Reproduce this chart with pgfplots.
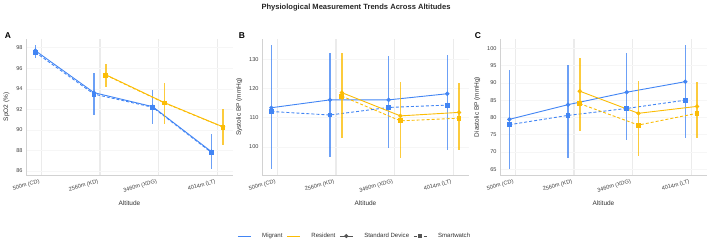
\documentclass[border=0pt]{standalone}
\usepackage{fontspec}
\setmainfont{Liberation Sans}
\usepackage{pgfplots}
\pgfplotsset{compat=1.18}

\definecolor{migrant}{HTML}{4285F4}
\definecolor{resident}{HTML}{FBBC05}
\definecolor{devgray}{HTML}{555555}

\pgfplotsset{
  panel/.style={
    scale only axis, width=207bp, height=136bp,
    xmin=-0.26, xmax=3.27,
    xtick={0,1,2,3},
    xticklabels={500m (CD),2560m (KD),3460m (XDG),4014m (LT)},
    x tick label style={rotate=15, anchor=north east, font=\fontsize{5.6}{6}\selectfont, text=black!75},
    y tick label style={font=\fontsize{5.6}{6}\selectfont, text=black!75},
    /pgf/number format/assume math mode=true,
    major tick length=0pt,
    axis x line*=bottom, axis y line*=left,
    axis line style={-, gray!35, line width=0.6bp},
    xmajorgrids, ymajorgrids,
    x grid style={gray!16, line width=1.3bp},
    y grid style={gray!7, line width=0.5bp},
    xlabel={Altitude},
    label style={font=\fontsize{6.5}{7}\selectfont, text=black!80},
  },
  std/.style={solid, line width=0.9bp, mark=*, mark size=1.7bp},
  watch/.style={line width=0.9bp, dash pattern=on 3bp off 2bp, mark=square*, mark size=1.9bp, mark options={solid}},
  ebar/.style={error bars/y dir=both, error bars/y explicit,
    error bars/error bar style={line width=1.5bp, opacity=0.78, solid},
    error bars/error mark=none},
}

\begin{document}
\begin{tikzpicture}
\path[use as bounding box] (0bp,0bp) rectangle (708bp,241bp);

\node[font=\bfseries\fontsize{7.6}{8}\selectfont, text=black!85] at (356bp,233bp)
  {Physiological Measurement Trends Across Altitudes};

% ---------- A: SpO2 ----------
\begin{axis}[panel, at={(26bp,66bp)}, anchor=south west,
  ymin=85.6, ymax=98.85, ytick={86,88,90,92,94,96,98},
  ylabel={SpO2 (\%)}]
\addplot[migrant, std, ebar, forget plot] coordinates {
  (-0.1,97.71) += (0,0.55) -= (0,0.74)
  (0.9,93.62)  += (0,1.88) -= (0,2.17)
  (1.9,92.26)  += (0,1.62) -= (0,1.68)
  (2.9,87.88)  += (0,1.72) -= (0,1.68)};
\addplot[migrant, watch, forget plot] coordinates {
  (-0.1,97.55) (0.9,93.48) (1.9,92.20) (2.9,87.80)};
\addplot[resident, std, ebar, forget plot] coordinates {
  (1.1,95.37) += (0,1.03) -= (0,1.17)
  (2.1,92.65) += (0,1.95) -= (0,2.05)
  (3.1,90.29) += (0,1.76) -= (0,1.79)};
\addplot[resident, watch, forget plot] coordinates {
  (1.1,95.33) (2.1,92.62) (3.1,90.27)};
\end{axis}

% ---------- B: Systolic BP ----------
\begin{axis}[panel, at={(262bp,66bp)}, anchor=south west,
  ymin=90.3, ymax=137.0, ytick={100,110,120,130},
  ylabel={Systolic BP (mmHg)},
  legend columns=4,
  legend style={draw=none, fill=none, at={(0.448,-0.449)}, anchor=center,
    font=\fontsize{6.1}{7}\selectfont, text=black!80,
    /tikz/every even column/.append style={column sep=2bp},
    /tikz/every odd column/.append style={column sep=9bp}},
  legend image code/.code={\draw[mark repeat=2, mark phase=2, #1]
    plot coordinates {(0bp,0bp) (6.5bp,0bp) (13bp,0bp)};}]
\addlegendimage{migrant, line width=0.9bp}
\addlegendentry{Migrant}
\addlegendimage{resident, line width=0.9bp}
\addlegendentry{Resident}
\addlegendimage{devgray, line width=0.9bp, mark=*, mark size=1.5bp}
\addlegendentry{Standard Device}
\addlegendimage{devgray, line width=0.9bp, dash pattern=on 3bp off 2bp, mark=square*, mark size=1.5bp, mark options={solid}}
\addlegendentry{Smartwatch}
\addplot[migrant, std, ebar, forget plot] coordinates {
  (-0.1,113.4) += (0,21.5) -= (0,21.1)
  (0.9,116.1)  += (0,16.2) -= (0,19.6)
  (1.9,116.1)  += (0,15.0) -= (0,16.7)
  (2.9,118.2)  += (0,13.3) -= (0,19.2)};
\addplot[migrant, watch, forget plot] coordinates {
  (-0.1,112.1) (0.9,110.9) (1.9,113.5) (2.9,114.3)};
\addplot[resident, std, ebar, forget plot] coordinates {
  (1.1,118.6) += (0,13.7) -= (0,15.5)
  (2.1,110.6) += (0,11.7) -= (0,14.3)
  (3.1,111.8) += (0,10.1) -= (0,12.8)};
\addplot[resident, watch, forget plot] coordinates {
  (1.1,117.4) (2.1,108.9) (3.1,109.8)};
\end{axis}

% ---------- C: Diastolic BP ----------
\begin{axis}[panel, at={(500bp,66bp)}, anchor=south west,
  ymin=63.35, ymax=102.7, ytick={65,70,75,80,85,90,95,100},
  ylabel={Diastolic BP (mmHg)}]
\addplot[migrant, std, ebar, forget plot] coordinates {
  (-0.1,79.46) += (0,14.4) -= (0,14.4)
  (0.9,83.7)   += (0,11.5) -= (0,15.5)
  (1.9,87.3)   += (0,11.4) -= (0,13.8)
  (2.9,90.35)  += (0,10.65) -= (0,16.25)};
\addplot[migrant, watch, forget plot] coordinates {
  (-0.1,77.9) (0.9,80.6) (1.9,82.6) (2.9,85.0)};
\addplot[resident, std, ebar, forget plot] coordinates {
  (1.1,87.6) += (0,9.7) -= (0,11.4)
  (2.1,81.2) += (0,9.3) -= (0,12.3)
  (3.1,83.2) += (0,7.2) -= (0,9.2)};
\addplot[resident, watch, forget plot] coordinates {
  (1.1,84.0) (2.1,77.8) (3.1,81.2)};
\end{axis}

\node[font=\bfseries\fontsize{8.5}{9}\selectfont] at (8bp,205bp) {A};
\node[font=\bfseries\fontsize{8.5}{9}\selectfont] at (242bp,205bp) {B};
\node[font=\bfseries\fontsize{8.5}{9}\selectfont] at (478bp,205bp) {C};
\end{tikzpicture}
\end{document}
